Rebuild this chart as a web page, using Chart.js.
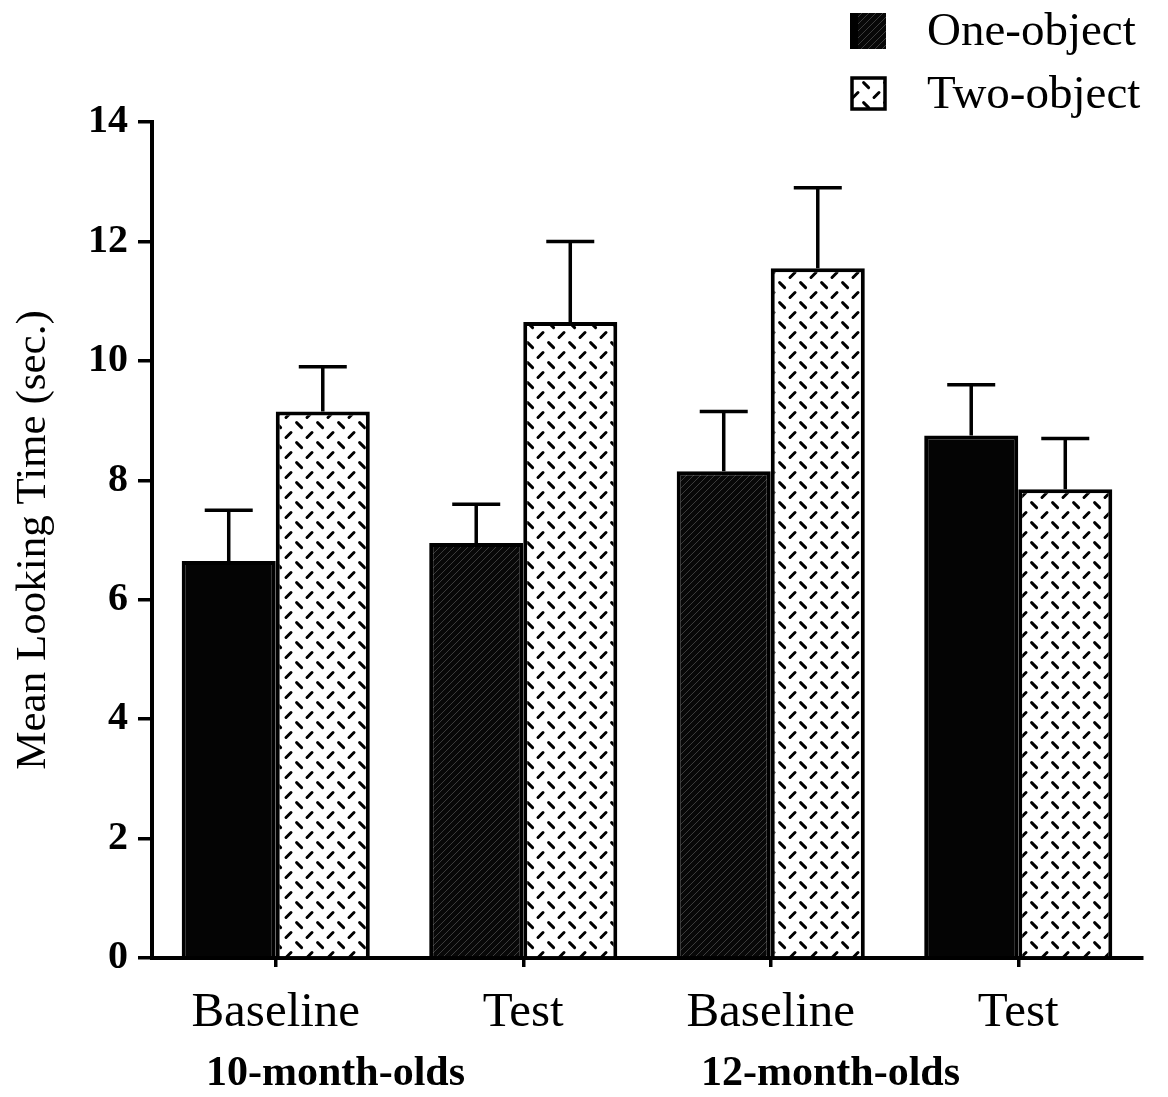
<!DOCTYPE html>
<html>
<head>
<meta charset="utf-8">
<script src="https://cdn.jsdelivr.net/npm/chart.js@4.4.1/dist/chart.umd.min.js"></script>
<style>
  body { margin: 0; background: #fff; }
  #wrap { width: 1168px; height: 1097px; }
</style>
</head>
<body>
<div id="wrap"><canvas id="chart"></canvas></div>
<script>
// data
const categories = ['Baseline', 'Test', 'Baseline', 'Test'];
const groupLabels = ['10-month-olds', '12-month-olds'];
const oneObject = [6.65, 6.95, 8.15, 8.75];
const twoObject = [9.15, 10.65, 11.55, 7.85];
const oneObjectErr = [0.85, 0.65, 1.0, 0.85];
const twoObjectErr = [0.75, 1.35, 1.35, 0.85];
const yTicks = [0, 2, 4, 6, 8, 10, 12, 14];

const SERIF = '"Liberation Serif", "Times New Roman", serif';

// diamond-plate dashes for the two-object bars
function makeDashPattern() {
  const c = document.createElement('canvas');
  c.width = 21; c.height = 20;
  const g = c.getContext('2d');
  g.fillStyle = '#fff';
  g.fillRect(0, 0, 21, 20);
  g.strokeStyle = '#000';
  g.lineWidth = 3;
  g.lineCap = 'round';
  g.beginPath();
  g.moveTo(2.6, 2.6); g.lineTo(7.6, 7.6);
  g.moveTo(13, 17.5); g.lineTo(18, 12.5);
  g.stroke();
  return g.createPattern(c, 'repeat');
}

// dark hatched fill (scanned gray shading)
function makeHatchPattern() {
  const c = document.createElement('canvas');
  c.width = 7; c.height = 7;
  const g = c.getContext('2d');
  g.fillStyle = '#080808';
  g.fillRect(0, 0, 7, 7);
  g.strokeStyle = '#3c3c3c';
  g.lineWidth = 1;
  g.beginPath();
  g.moveTo(-1, 8); g.lineTo(8, -1);
  g.stroke();
  return g.createPattern(c, 'repeat');
}

const dashPat = makeDashPattern();
const hatchPat = makeHatchPattern();
const oneFills = ['#040404', hatchPat, hatchPat, '#040404'];

const errorBars = {
  id: 'errorBars',
  afterDatasetsDraw(chart) {
    const ctx = chart.ctx;
    const y = chart.scales.y;
    const errs = [oneObjectErr, twoObjectErr];
    ctx.save();
    ctx.strokeStyle = '#000';
    ctx.lineWidth = 3.5;
    chart.data.datasets.forEach((ds, i) => {
      chart.getDatasetMeta(i).data.forEach((bar, j) => {
        const top = y.getPixelForValue(ds.data[j] + errs[i][j]);
        ctx.beginPath();
        ctx.moveTo(bar.x, bar.y);
        ctx.lineTo(bar.x, top);
        ctx.moveTo(bar.x - 24, top);
        ctx.lineTo(bar.x + 24, top);
        ctx.stroke();
      });
    });
    ctx.restore();
  }
};

const extraText = {
  id: 'extraText',
  afterDraw(chart) {
    const ctx = chart.ctx;
    const x = chart.scales.x;
    ctx.save();
    // age group labels
    ctx.fillStyle = '#000';
    ctx.font = 'bold 42px ' + SERIF;
    ctx.textAlign = 'center';
    ctx.textBaseline = 'middle';
    groupLabels.forEach((t, k) => {
      const mid = (x.getPixelForValue(k * 2) + x.getPixelForValue(k * 2 + 1)) / 2;
      ctx.fillText(t, mid - 64, 1074);
    });
    // legend
    ctx.fillStyle = hatchPat;
    ctx.fillRect(850, 13, 36, 36);
    ctx.fillStyle = '#000';
    ctx.fillRect(850, 13, 8, 36);
    ctx.fillStyle = dashPat;
    ctx.fillRect(852, 78, 33, 31);
    ctx.strokeStyle = '#000';
    ctx.lineWidth = 3.5;
    ctx.strokeRect(852, 78, 33, 31);
    ctx.fillStyle = '#000';
    ctx.font = '47px ' + SERIF;
    ctx.textAlign = 'left';
    ctx.fillText('One-object', 927, 33);
    ctx.fillText('Two-object', 927, 96);
    ctx.restore();
  }
};

new Chart(document.getElementById('chart'), {
  type: 'bar',
  data: {
    labels: categories,
    datasets: [
      { label: 'One-object', data: oneObject, backgroundColor: oneFills, borderColor: '#000', borderWidth: 4 },
      { label: 'Two-object', data: twoObject, backgroundColor: dashPat, borderColor: '#000', borderWidth: 4 }
    ]
  },
  options: {
    responsive: true,
    maintainAspectRatio: false,
    animation: false,
    layout: { padding: { left: 0, right: 26, top: 122, bottom: 0 } },
    datasets: { bar: { barPercentage: 1.0, categoryPercentage: 0.76 } },
    plugins: { legend: { display: false }, tooltip: { enabled: false } },
    scales: {
      x: {
        afterFit: s => { s.height = 139; },
        grid: { offset: false, drawOnChartArea: false, drawTicks: true, tickLength: 9, color: '#000', lineWidth: 3.5 },
        border: { color: '#000', width: 4 },
        ticks: { color: '#000', padding: 17, font: { family: SERIF, size: 49 } }
      },
      y: {
        min: 0, max: 14,
        afterFit: s => { s.width = 152; },
        afterBuildTicks: s => { s.ticks = yTicks.map(v => ({ value: v })); },
        grid: { drawOnChartArea: false, drawTicks: true, tickLength: 14, color: '#000', lineWidth: 3.5 },
        border: { color: '#000', width: 4 },
        ticks: { color: '#000', padding: 10, font: { family: SERIF, size: 40, weight: 'bold' } },
        title: {
          display: true,
          text: 'Mean Looking Time (sec.)',
          color: '#000',
          padding: { top: 8, bottom: 0 },
          font: { family: SERIF, size: 43 }
        }
      }
    }
  },
  plugins: [errorBars, extraText]
});
</script>
</body>
</html>
